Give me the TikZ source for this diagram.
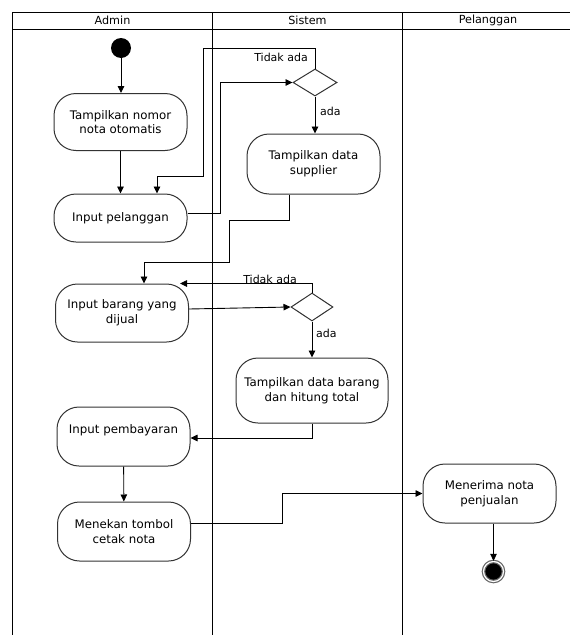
\documentclass[tikz,border=0pt]{standalone}
\usepackage{fontspec}
\setmainfont{DejaVu Sans}
\usetikzlibrary{arrows.meta,shapes.geometric}
\begin{document}
\begin{tikzpicture}[x=1pt,y=-1pt,
  font=\fontsize{11.8}{14.8}\selectfont,
  act/.style={draw=black!80, line width=1pt, rounded corners=22pt, align=center,
    inner sep=0pt, minimum width=133pt, minimum height=58pt},
  dec/.style={draw=black!80, line width=1pt, diamond, inner sep=0pt,
    minimum width=44pt, minimum height=27pt},
  arr/.style={draw=black, line width=0.9pt, -{Triangle[length=7pt,width=6.5pt]}},
  lane/.style={draw=black, line width=1pt},
  guard/.style={font=\fontsize{11}{12}\selectfont, inner sep=0pt},
  head/.style={font=\fontsize{11.2}{12}\selectfont, inner sep=0pt}]
\useasboundingbox (0,0) rectangle (570,635);

% swimlane frame
\draw[lane] (12.5,635) -- (12.5,12.5) -- (570,12.5);
\draw[lane] (12.5,29.5) -- (570,29.5);
\draw[lane] (212.5,12.5) -- (212.5,635);
\draw[lane] (402.5,12.5) -- (402.5,635);
\node[head] (hAdmin) at (112.5,20.5) {Admin};
\node[head] (hSistem) at (307.5,20.5) {Sistem};
\node[head] (hPel) at (488,20.5) {Pelanggan};

% start and end
\node[circle, fill=black, minimum size=20pt, inner sep=0pt] (start) at (121,48) {};
\node[circle, draw=black!60, line width=1.2pt, fill=black, minimum size=20pt, inner sep=0pt,
  double=white, double distance=1.2pt] (stop) at (493.5,571.5) {};

% activities
\node[act, minimum height=57pt] (n1) at (120.5,122) {Tampilkan nomor\\nota otomatis};
\node[act, minimum height=48pt] (n2) at (120.5,218) {Input pelanggan};
\node[dec] (d1) at (315,82.5) {};
\node[act, minimum height=60pt] (n3) at (313.5,164) {Tampilkan data\\supplier};
\node[act] (n4) at (122,313) {Input barang yang\\dijual};
\node[dec, minimum width=42pt, minimum height=28pt] (d2) at (312,307) {};
\node[act, minimum width=152pt, minimum height=65pt] (n5) at (312,390.5) {Tampilkan data barang\\dan hitung total};
\node[act, minimum height=59pt] (n6) at (123.5,436.5) {Input pembayaran\\[0pt]~};
\node[act, minimum height=59pt] (n7) at (124,531.5) {Menekan tombol\\cetak nota};
\node[act, minimum height=59pt] (n8) at (489.5,493.5) {Menerima nota\\penjualan};

% flow
\draw[arr] (start) -- (n1.north -| start);
\draw[arr] (n1) -- (n2);
\draw[arr] ([yshift=5pt]n2.east) -- (220,213) |- (d1.west);
\draw[arr] (d1.north) |- (203,48) |- (157,176) -- ([xshift=36.5pt]n2.north);
\node[guard, anchor=east] (g1) at (308,57) {Tidak ada};
\draw[arr] (d1.south) -- (d1.south |- n3.north);
\node[guard, anchor=west] (g2) at (320,111) {ada};
\draw[arr] ([xshift=-24.5pt]n3.south) |- (229,220) |- (144,262) -- ([xshift=22pt]n4.north);
\draw[arr] ([yshift=4pt]n4.east) -- (d2.west);
\draw[arr] (d2.north) |- ([xshift=58pt]n4.north);
\node[guard, anchor=east] (g3) at (297,279) {Tidak ada};
\draw[arr] (d2.south) -- (n5.north);
\node[guard, anchor=west] (g4) at (316,333) {ada};
\draw[arr] (n5.south) |- ([yshift=-1.5pt]n6.east);
\draw[arr] (n6) -- (n7);
\draw[arr] ([yshift=8.5pt]n7.east) -- (282,523) |- (n8.west);
\draw[arr] ([xshift=4pt]n8.south) -- (stop);
\end{tikzpicture}
\end{document}
